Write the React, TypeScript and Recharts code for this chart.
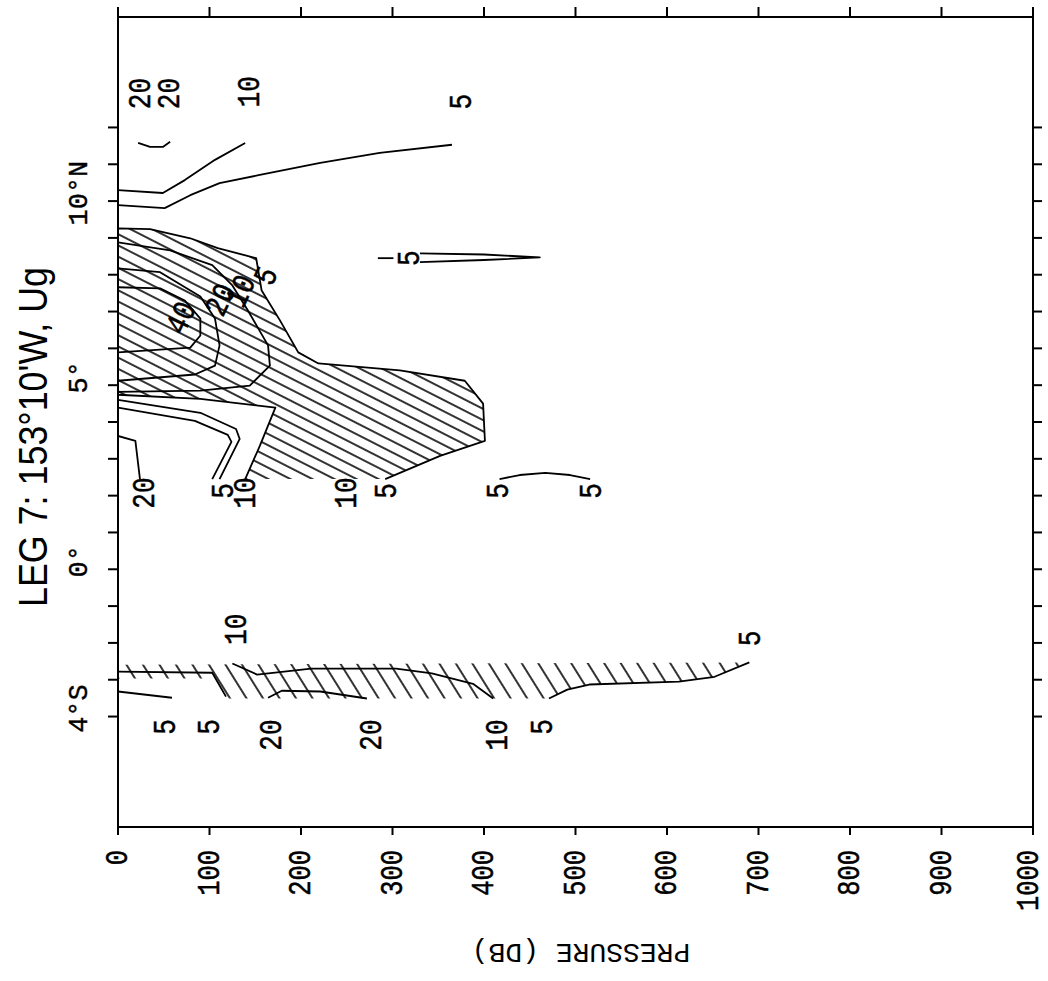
import React from "react";
import { ScatterChart, Scatter, XAxis, YAxis } from "recharts";

type Pt = { p: number; lat: number };
type Lbl = { p: number; lat: number; text: string };

// axes
const pressureTicks = [0, 100, 200, 300, 400, 500, 600, 700, 800, 900, 1000];
const latTicks = [-4, -3, -2, -1, 0, 1, 2, 3, 4, 5, 6, 7, 8, 9, 10, 11, 12];
const latLabelValues = [10, 5, 0, -4];
const latLabelTexts = ["10°N", "5°", "0°", "4°S"];

// northern block: hatched lobe (5 contour), starts at its open bottom edge
const northHatch: Pt[] = [
  { p: 139, lat: 2.45 }, { p: 155, lat: 3.35 }, { p: 172, lat: 4.39 }, { p: 90, lat: 4.63 },
  { p: 0, lat: 4.74 }, { p: 0, lat: 9.26 }, { p: 35, lat: 9.24 }, { p: 79, lat: 8.99 },
  { p: 109, lat: 8.72 }, { p: 151, lat: 8.45 }, { p: 157, lat: 7.57 }, { p: 177, lat: 6.76 },
  { p: 197, lat: 5.89 }, { p: 219, lat: 5.59 }, { p: 308, lat: 5.4 }, { p: 379, lat: 5.12 },
  { p: 399, lat: 4.5 }, { p: 401, lat: 3.49 }, { p: 352, lat: 3.08 }, { p: 292, lat: 2.45 },
];

const northTop10: Pt[] = [
  { p: 0, lat: 10.3 }, { p: 49, lat: 10.22 }, { p: 73, lat: 10.57 }, { p: 106, lat: 11.12 }, { p: 139, lat: 11.58 },
];
const northTop5: Pt[] = [
  { p: 0, lat: 9.89 }, { p: 51, lat: 9.81 }, { p: 79, lat: 10.16 }, { p: 111, lat: 10.49 },
  { p: 155, lat: 10.71 }, { p: 221, lat: 11.04 }, { p: 286, lat: 11.31 }, { p: 365, lat: 11.53 },
];
const northTop20: Pt[] = [
  { p: 22, lat: 11.58 }, { p: 35, lat: 11.47 }, { p: 49, lat: 11.47 }, { p: 57, lat: 11.61 },
];
const lobe10: Pt[] = [
  { p: 0, lat: 8.88 }, { p: 57, lat: 8.66 }, { p: 103, lat: 8.26 }, { p: 125, lat: 7.71 },
  { p: 142, lat: 7.03 }, { p: 164, lat: 6.08 }, { p: 166, lat: 5.53 }, { p: 144, lat: 4.99 },
  { p: 90, lat: 4.85 }, { p: 0, lat: 4.82 },
];
const lobe20: Pt[] = [
  { p: 0, lat: 8.17 }, { p: 46, lat: 8.07 }, { p: 90, lat: 7.41 }, { p: 106, lat: 6.81 },
  { p: 111, lat: 6.08 }, { p: 106, lat: 5.53 }, { p: 84, lat: 5.29 }, { p: 0, lat: 5.12 },
];
const lobe40: Pt[] = [
  { p: 0, lat: 7.66 }, { p: 46, lat: 7.63 }, { p: 73, lat: 7.3 }, { p: 90, lat: 6.81 },
  { p: 90, lat: 6.35 }, { p: 79, lat: 6.02 }, { p: 0, lat: 5.89 },
];
const white5: Pt[] = [
  { p: 0, lat: 4.6 }, { p: 90, lat: 4.25 }, { p: 129, lat: 3.81 }, { p: 133, lat: 3.54 }, { p: 111, lat: 2.45 },
];
const white10: Pt[] = [
  { p: 0, lat: 4.39 }, { p: 84, lat: 4.03 }, { p: 120, lat: 3.65 }, { p: 124, lat: 3.46 }, { p: 103, lat: 2.45 },
];
const white20: Pt[] = [{ p: 0, lat: 3.62 }, { p: 19, lat: 3.49 }, { p: 24, lat: 2.45 }];
const spike5: Pt[] = [
  { p: 330, lat: 8.58 }, { p: 400, lat: 8.55 }, { p: 461, lat: 8.47 }, { p: 400, lat: 8.4 }, { p: 330, lat: 8.34 },
];
const spikeDash: Pt[] = [{ p: 284, lat: 8.45 }, { p: 301, lat: 8.45 }];
const arc5: Pt[] = [
  { p: 417, lat: 2.45 }, { p: 439, lat: 2.56 }, { p: 467, lat: 2.62 }, { p: 494, lat: 2.56 }, { p: 516, lat: 2.45 },
];

// southern block
const southHatch: Pt[] = [
  { p: 0, lat: -2.59 }, { p: 690, lat: -2.53 }, { p: 652, lat: -2.92 }, { p: 613, lat: -3.05 },
  { p: 515, lat: -3.13 }, { p: 491, lat: -3.27 }, { p: 471, lat: -3.51 }, { p: 118, lat: -3.51 },
  { p: 103, lat: -2.97 }, { p: 0, lat: -2.97 },
];
const south5a: Pt[] = [{ p: 0, lat: -3.32 }, { p: 59, lat: -3.49 }];
const south5b: Pt[] = [{ p: 0, lat: -2.78 }, { p: 103, lat: -2.81 }, { p: 118, lat: -3.46 }];
const south10: Pt[] = [
  { p: 125, lat: -2.56 }, { p: 152, lat: -2.86 }, { p: 211, lat: -2.7 }, { p: 304, lat: -2.7 },
  { p: 343, lat: -2.83 }, { p: 388, lat: -3.11 }, { p: 410, lat: -3.51 },
];
const south20: Pt[] = [{ p: 164, lat: -3.49 }, { p: 179, lat: -3.3 }, { p: 221, lat: -3.32 }, { p: 272, lat: -3.51 }];
const south5c: Pt[] = [
  { p: 471, lat: -3.51 }, { p: 491, lat: -3.27 }, { p: 515, lat: -3.13 }, { p: 613, lat: -3.05 },
  { p: 652, lat: -2.92 }, { p: 690, lat: -2.53 },
];

// contour labels
const uprightLabels: Lbl[] = [
  { p: 23, lat: 12.92, text: "20" }, { p: 55, lat: 12.92, text: "20" }, { p: 142, lat: 12.97, text: "10" },
  { p: 374, lat: 12.7, text: "5" }, { p: 317, lat: 8.45, text: "5" },
  { p: 27, lat: 2.07, text: "20" }, { p: 114, lat: 2.13, text: "5" }, { p: 138, lat: 2.07, text: "10" },
  { p: 248, lat: 2.07, text: "10" }, { p: 292, lat: 2.13, text: "5" }, { p: 414, lat: 2.13, text: "5" },
  { p: 516, lat: 2.13, text: "5" },
  { p: 128, lat: -1.63, text: "10" }, { p: 690, lat: -1.88, text: "5" },
  { p: 50, lat: -4.28, text: "5" }, { p: 98, lat: -4.28, text: "5" }, { p: 166, lat: -4.5, text: "20" },
  { p: 275, lat: -4.5, text: "20" }, { p: 413, lat: -4.5, text: "10" }, { p: 462, lat: -4.28, text: "5" },
];
const slantLabels: Lbl[] = [
  { p: 68, lat: 6.84, text: "40" }, { p: 111, lat: 7.33, text: "20" },
  { p: 133, lat: 7.57, text: "10" }, { p: 161, lat: 7.98, text: "5" },
];

const contourLines = [
  northTop10, northTop5, northTop20, lobe10, lobe20, lobe40, white5, white10, white20,
  spike5, spikeDash, arc5, south5a, south5b, south10, south20, south5c,
];

const MONO = "'Liberation Mono', 'DejaVu Sans Mono', monospace";

const noDot = () => <g />;

const hatchLine = (fillId: string, outline: boolean) => (props: any) => {
  const pts = (props.points || []) as { x: number; y: number }[];
  const d = pts.map((pt, i) => `${i ? "L" : "M"}${pt.x},${pt.y}`).join("");
  return (
    <g>
      <path d={d + "Z"} fill={`url(#${fillId})`} stroke="none" />
      {outline && <path d={d} fill="none" stroke="#000" strokeWidth={1.8} strokeLinejoin="round" />}
    </g>
  );
};

const labelShape = (angle: number) => (props: any) => {
  const { cx, cy, payload } = props;
  return (
    <text
      transform={`translate(${cx},${cy}) rotate(${angle}) scale(0.82,1)`}
      textAnchor="middle"
      dy="0.34em"
      fontFamily={MONO}
      fontSize={32}
      fill="#000"
      stroke="#000"
      strokeWidth={0.5}
    >
      {payload.text}
    </text>
  );
};

const PressureTick = (props: any) => {
  const { x, y, payload } = props;
  // keep the last label's box inside the picture
  const tx = Math.min(x, 1029);
  return (
    <text
      transform={`translate(${tx},${y + 15}) rotate(-90) scale(0.82,1)`}
      textAnchor="end"
      dy="0.3em"
      fontFamily={MONO}
      fontSize={31}
      fill="#000"
      stroke="#000"
      strokeWidth={0.5}
    >
      {payload.value}
    </text>
  );
};

const LatTick = (props: any) => {
  const { x, y, payload } = props;
  const i = latLabelValues.indexOf(payload.value);
  if (i < 0) return <g />;
  return (
    <text
      transform={`translate(${x - 21},${y - 8}) rotate(-90)`}
      textAnchor="middle"
      fontFamily={MONO}
      fontSize={27}
      fill="#000"
      stroke="#000"
      strokeWidth={0.4}
    >
      {latLabelTexts[i]}
    </text>
  );
};

const axisStroke = { stroke: "#000", strokeWidth: 2 };

export default function App() {
  return (
    <div style={{ position: "absolute", left: 0, top: 0, background: "#fff" }}>
      <ScatterChart width={1048} height={981} margin={{ top: 7, right: 5, bottom: 124, left: 58 }}>
        <defs>
          <pattern id="hatchN" patternUnits="userSpaceOnUse" width="10" height="10" patternTransform="rotate(27)">
            <line x1="0" y1="5" x2="10" y2="5" stroke="#000" strokeWidth="1.6" />
          </pattern>
          <pattern id="hatchS" patternUnits="userSpaceOnUse" width="10" height="14" patternTransform="rotate(58)">
            <line x1="0" y1="7" x2="10" y2="7" stroke="#000" strokeWidth="1.6" />
          </pattern>
        </defs>

        <XAxis
          xAxisId="bottom"
          type="number"
          dataKey="p"
          domain={[0, 1000]}
          ticks={pressureTicks}
          interval={0}
          allowDataOverflow
          orientation="bottom"
          height={30}
          tickSize={8}
          tickMargin={0}
          axisLine={axisStroke}
          tickLine={axisStroke}
          tick={(props: any) => <PressureTick {...props} />}
        />
        <XAxis
          xAxisId="top"
          type="number"
          dataKey="p"
          domain={[0, 1000]}
          ticks={pressureTicks}
          interval={0}
          allowDataOverflow
          orientation="top"
          height={10}
          tickSize={10}
          tickMargin={0}
          axisLine={axisStroke}
          tickLine={axisStroke}
          tick={noDot}
        />
        <YAxis
          yAxisId="left"
          type="number"
          dataKey="lat"
          domain={[-7, 15]}
          ticks={latTicks}
          interval={0}
          allowDataOverflow
          orientation="left"
          width={60}
          tickSize={10}
          tickMargin={0}
          axisLine={axisStroke}
          tickLine={axisStroke}
          tick={(props: any) => <LatTick {...props} />}
        />
        <YAxis
          yAxisId="right"
          type="number"
          dataKey="lat"
          domain={[-7, 15]}
          ticks={latTicks}
          interval={0}
          allowDataOverflow
          orientation="right"
          width={10}
          tickSize={9}
          tickMargin={0}
          axisLine={axisStroke}
          tickLine={axisStroke}
          tick={noDot}
        />

        <Scatter xAxisId="top" yAxisId="right" data={arc5} shape={noDot} isAnimationActive={false} />

        <Scatter
          xAxisId="bottom"
          yAxisId="left"
          data={northHatch}
          shape={noDot}
          line={hatchLine("hatchN", true)}
          isAnimationActive={false}
        />
        <Scatter
          xAxisId="bottom"
          yAxisId="left"
          data={southHatch}
          shape={noDot}
          line={hatchLine("hatchS", false)}
          isAnimationActive={false}
        />

        {contourLines.map((pts, i) => (
          <Scatter
            key={i}
            xAxisId="bottom"
            yAxisId="left"
            data={pts}
            shape={noDot}
            line={{ stroke: "#000", strokeWidth: 1.8, strokeLinejoin: "round" }}
            lineJointType="linear"
            isAnimationActive={false}
          />
        ))}

        <Scatter xAxisId="bottom" yAxisId="left" data={uprightLabels} shape={labelShape(-90)} isAnimationActive={false} />
        <Scatter xAxisId="bottom" yAxisId="left" data={slantLabels} shape={labelShape(-65)} isAnimationActive={false} />

        <text
          transform="translate(47,607) rotate(-90)"
          fontFamily="'Liberation Sans', Arial, sans-serif"
          fontSize={41}
          textLength={340}
          lengthAdjust="spacingAndGlyphs"
          fill="#000"
        >
          LEG 7: 153°10'W, Ug
        </text>
        <text
          transform="translate(581,944) rotate(180)"
          textAnchor="middle"
          fontFamily={MONO}
          fontSize={28}
          fill="#000"
        >
          PRESSURE (DB)
        </text>
      </ScatterChart>
    </div>
  );
}
